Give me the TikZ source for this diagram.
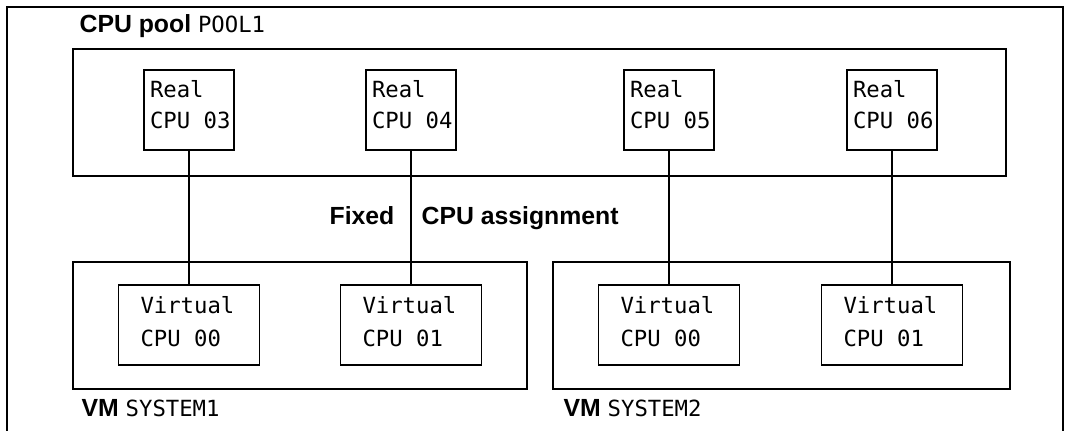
\documentclass[tikz,border=0pt]{standalone}
\usepackage{fontspec}
\setmainfont{Liberation Sans}
\newfontfamily\monofam{DejaVu Sans Mono}
\newcommand\monotext{\monofam\mdseries\fontsize{16.7}{19}\selectfont}
\newcommand\boldtext{\bfseries\fontsize{18.6}{22}\selectfont}
\begin{document}
\begin{tikzpicture}[x=0.75pt,y=-0.75pt,line width=0.9pt,
  box/.style args={#1x#2}{draw,inner sep=0pt,minimum width=#1*0.75pt,minimum height=#2*0.75pt},
  mtxt/.style={inner sep=0pt,anchor=base west,font=\monotext},
  btxt/.style={inner sep=0pt,anchor=base west,font=\boldtext},
  link/.style={draw}]
\useasboundingbox (0,0) rectangle (1069,431);
% outer frame (open at the bottom, continues below the page)
\coordinate (fbl) at (7,445);
\coordinate (ftl) at (7,7);
\coordinate (ftr) at (1063,7);
\coordinate (fbr) at (1063,445);
\draw (fbl) -- (ftl) -- (ftr) -- (fbr);
% pool
\node[box=933x127] (pool) at (539.5,112.5) {};
\node[btxt] (pooltitle) at (79,33) {CPU pool {\monotext POOL1}};
% VM boxes
\node[box=454x127] (vm1) at (300,325.5) {};
\node[box=457x127] (vm2) at (781.5,325.5) {};
\node[btxt] (vm1title) at (81,416) {VM {\monotext SYSTEM1}};
\node[btxt] (vm2title) at (563,416) {VM {\monotext SYSTEM2}};
% real CPUs
\foreach \n/\x in {03/189, 04/411, 05/669, 06/892}{
  \node[box=90x80] (r\n) at (\x,110) {};
  \node[mtxt] (r\n a) at ([xshift=6*0.75pt,yshift=-28*0.75pt]r\n.north west) {Real};
  \node[mtxt] (r\n b) at ([xshift=6*0.75pt,yshift=-59*0.75pt]r\n.north west) {CPU \n};
}
% virtual CPUs
\foreach \m/\n/\x in {a/00/189, b/01/411, c/00/669, d/01/892}{
  \node[box=141x80] (v\m) at (\x,325) {};
  \node[mtxt] (v\m a) at ([xshift=22*0.75pt,yshift=-29*0.75pt]v\m.north west) {Virtual};
  \node[mtxt] (v\m b) at ([xshift=22*0.75pt,yshift=-62*0.75pt]v\m.north west) {CPU \n};
}
% assignments
\draw[link] (r03.south) -- (va.north);
\draw[link] (r04.south) -- (vb.north);
\draw[link] (r05.south) -- (vc.north);
\draw[link] (r06.south) -- (vd.north);
\node[btxt] (fixed) at (329,224) {Fixed};
\node[btxt] (assign) at (421,224) {CPU assignment};
\end{tikzpicture}
\end{document}
